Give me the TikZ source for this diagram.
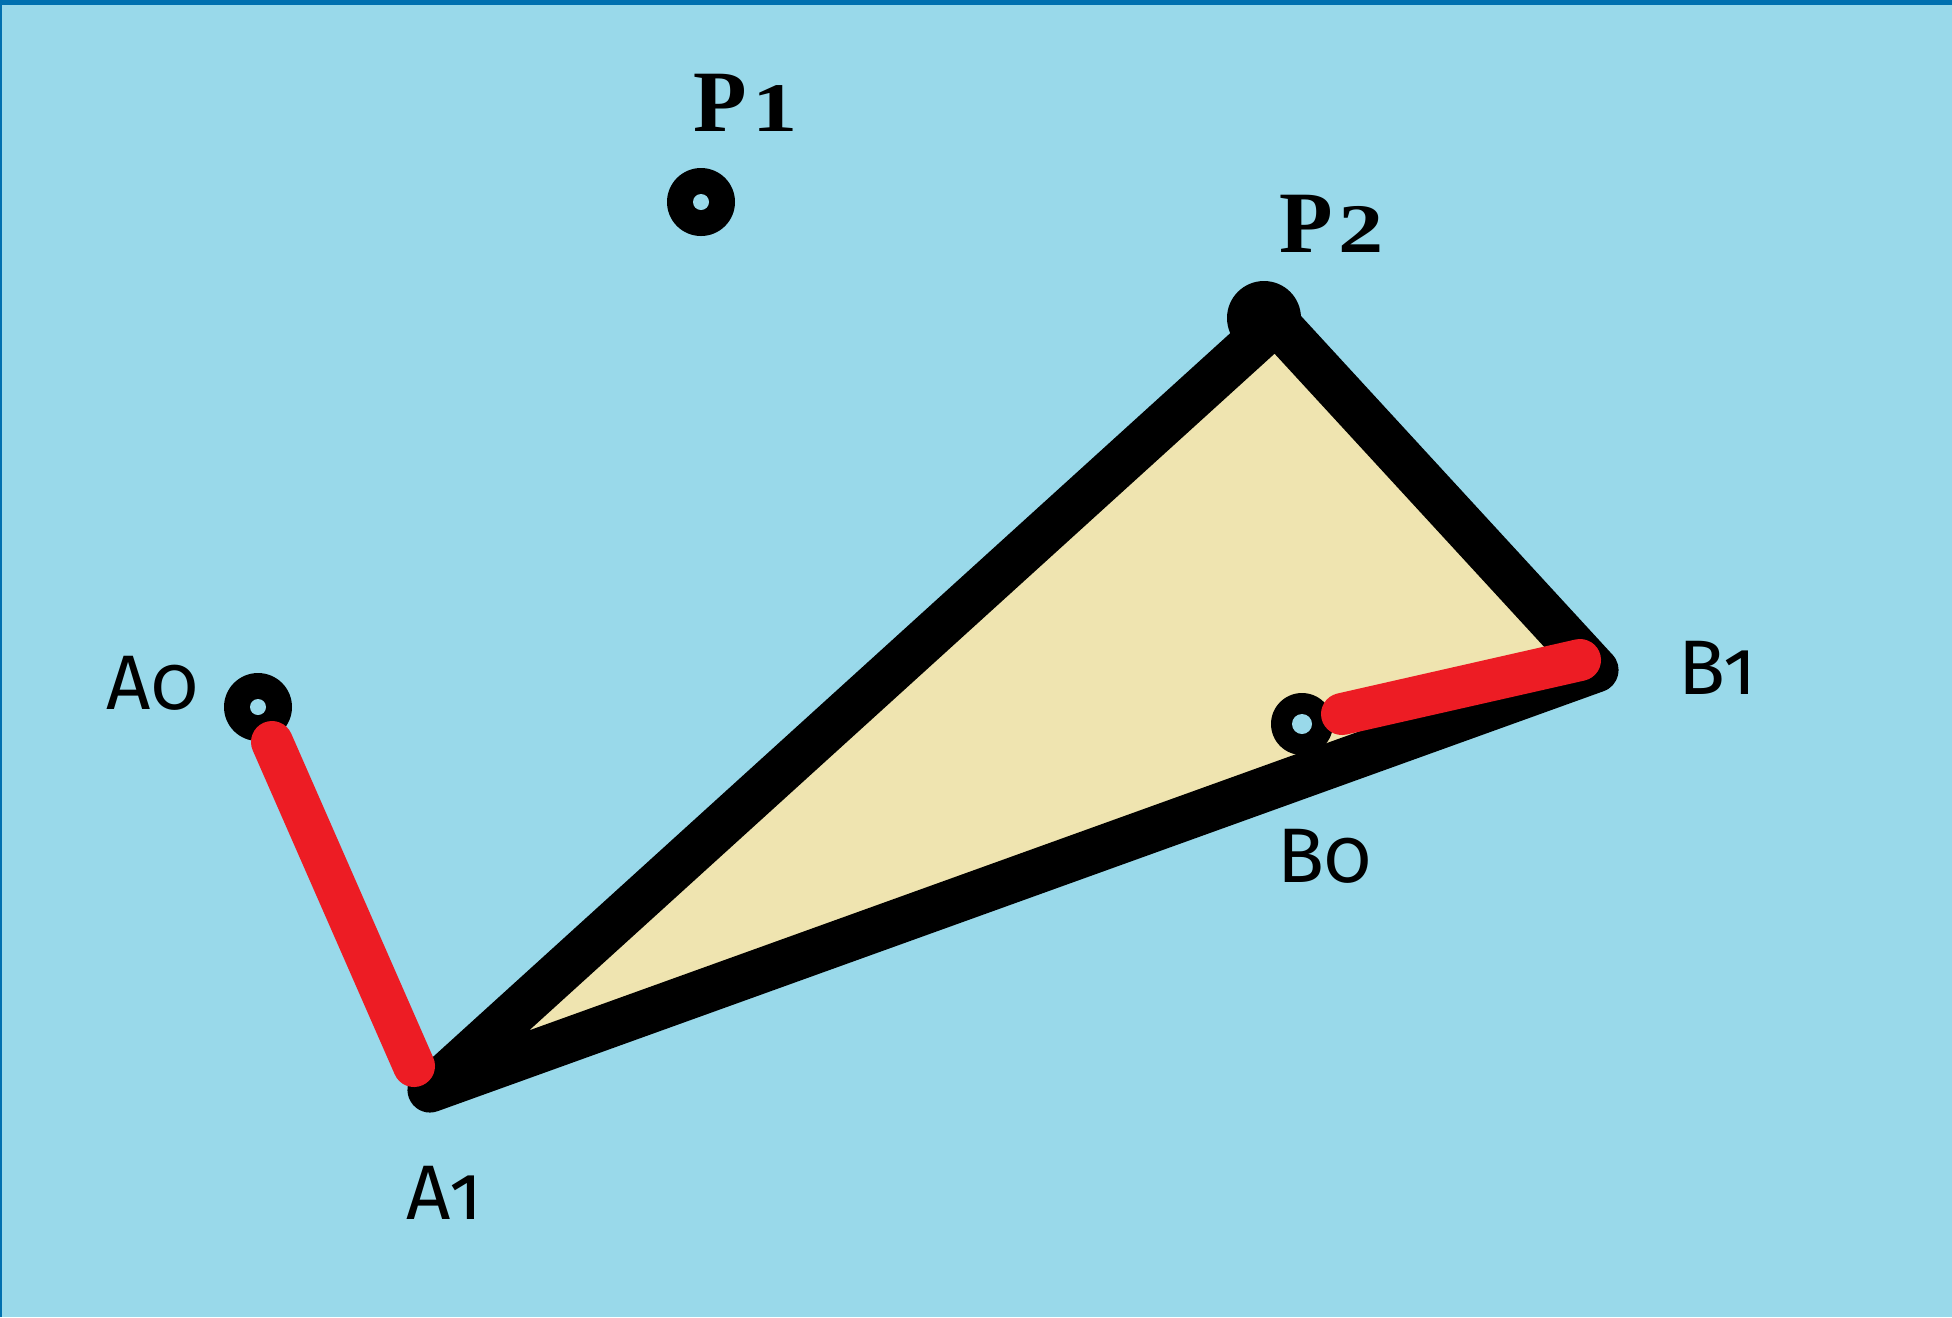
\documentclass[tikz,border=0pt]{standalone}
\usepackage{fontspec}
\newfontfamily\lblfont[Numbers=OldStyle]{Fira Sans}
\newfontfamily\pfont{Liberation Serif}
\definecolor{bg}{HTML}{99D9EA}
\definecolor{framecol}{HTML}{0070AF}
\definecolor{beige}{HTML}{EFE4B0}
\definecolor{linkred}{HTML}{ED1C24}
\newcommand{\pdig}[1]{\kern1.5pt\scalebox{1.3}[1]{\fontsize{19.8pt}{24pt}\selectfont #1}}
\begin{document}
\begin{tikzpicture}[x=0.1mm,y=-0.1mm,
  bar/.style={draw=black, fill=beige, line width=4.5mm, line join=round, line cap=round},
  link/.style={draw=linkred, line width=4.2mm, line cap=round},
  pivot/.style={fill=black},
  hole/.style={fill=bg},
  lbl/.style={anchor=base west, inner sep=0pt, font=\lblfont\fontsize{22pt}{24pt}\selectfont},
  plbl/.style={anchor=base west, inner sep=0pt, font=\pfont\bfseries\fontsize{24.9pt}{28pt}\selectfont}]
\fill[bg] (0,0) rectangle (1952,1317);
\useasboundingbox (0,0) rectangle (1952,1317);
\fill[framecol] (0,0) rectangle (1952,5);
\fill[framecol] (0,0) rectangle (2,1317);
% points
\coordinate (A1) at (430,1090);
\coordinate (P2) at (1276,322);
\coordinate (B1) at (1596,670);
\coordinate (P2b) at (1264,318);
\coordinate (P1) at (701,202);
\coordinate (A0) at (258,707);
\coordinate (B0) at (1302,724);
\coordinate (A0s) at (272,742);
\coordinate (A1r) at (414,1066);
\coordinate (B0s) at (1342,714);
\coordinate (B1r) at (1580,660);
% coupler triangle
\draw[bar] (A1) -- (P2) -- (B1) -- cycle;
\fill[pivot] (P2b) circle (37);
% pivots
\fill[pivot] (P1) circle (34);
\fill[hole] (P1) circle (8);
\fill[pivot] (A0) circle (34);
\fill[hole] (A0) circle (8);
\fill[pivot] (B0) circle (31);
\fill[hole] (B0) circle (10);
% cranks
\draw[link] (A0s) -- (A1r);
\draw[link] (B0s) -- (B1r);
% labels
\node[plbl] (lP1) at (693,131) {P\pdig{1}};
\node[plbl] (lP2) at (1279,252) {P\pdig{2}};
\node[lbl] (lA0) at (106,709) {A0};
\node[lbl] (lA1) at (406,1219) {A1};
\node[lbl] (lB0) at (1277,882) {B0};
\node[lbl] (lB1) at (1678,694) {B1};
\end{tikzpicture}
\end{document}
